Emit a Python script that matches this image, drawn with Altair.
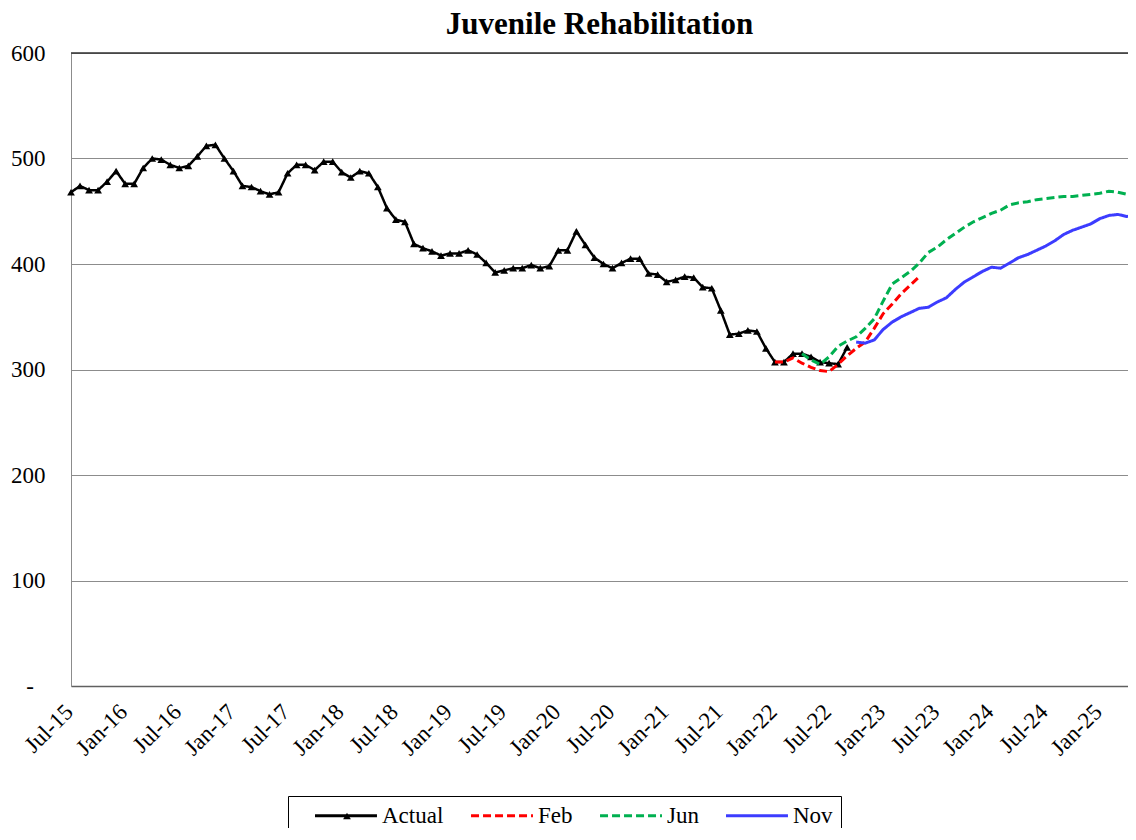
import altair as alt
import pandas as pd

# Month index 0 = Jul-15, 118 = May-25
actual_start = 0
actual = [468, 474, 470, 470, 478, 488, 476, 476, 491, 500, 499, 494, 491, 493, 502, 512,
          513, 500, 488, 474, 473, 469, 466, 468, 486, 494, 494, 489, 497, 497, 487, 482,
          488, 486, 473, 453, 442, 440, 419, 415, 412, 408, 410, 410, 413, 409, 401, 392,
          394, 396, 396, 399, 396, 398, 413, 413, 431, 418, 406, 400, 396, 401, 405, 405,
          391, 390, 383, 385, 388, 387, 378, 377, 356, 333, 334, 337, 336, 320, 307, 307,
          315, 315, 312, 307, 306, 305, 321]

feb_start = 78
feb = [307, 307, 311, 306, 302, 299, 298, 305, 313, 320, 326, 339, 353, 362, 372, 380, 388]

jun_start = 81
jun = [315, 309, 305, 312, 322, 327, 331, 339, 348, 365, 381, 387, 393, 401, 411, 416,
       423, 429, 435, 440, 444, 448, 451, 456, 458, 459, 461, 462, 463, 464, 464, 465,
       466, 467, 469, 468, 466, 466]

nov_start = 87
nov = [326, 325, 328, 338, 345, 350, 354, 358, 359, 364, 368, 376, 383, 388, 393, 397,
       396, 401, 406, 409, 413, 417, 422, 428, 432, 435, 438, 443, 446, 447, 445, 447]

series_names = ["Actual", "Feb", "Jun", "Nov"]
series_colors = ["#000000", "#ff0000", "#00b050", "#3c3cff"]
series_dash = [[1, 0], [8, 4], [8, 4], [1, 0]]

y_ticks = [0, 100, 200, 300, 400, 500, 600]
x_ticks = list(range(0, 119, 6))
y_top = 600
x_domain = [0, 117.12]   # visible window (chart is cut at the right edge)

rows = []
for name, start, vals in [("Actual", actual_start, actual), ("Feb", feb_start, feb),
                          ("Jun", jun_start, jun), ("Nov", nov_start, nov)]:
    for i, v in enumerate(vals):
        rows.append({"idx": start + i, "value": v, "series": name, "marker": name})
df = pd.DataFrame(rows)
df_actual = df[df.series == "Actual"]
df_fc = df[df.series != "Actual"]

FONT = "Liberation Serif"

legend = alt.Legend(
    title=None, orient="none", legendX=217, legendY=743, direction="horizontal",
    symbolType="M-4.13,0H4.13", symbolSize=225, symbolStrokeWidth=3,
    labelFont=FONT, labelFontSize=23, labelColor="black", labelOffset=24.5,
    columnPadding=8, padding=8, strokeColor="black", symbolOffset=38.5,
)
marker_legend = alt.Legend(
    title=None, orient="none", legendX=272, legendY=759, direction="horizontal",
    symbolType="triangle-up", symbolSize=60, symbolFillColor="black",
    symbolStrokeColor="black", symbolStrokeWidth=0,
    labelExpr="''", labelFontSize=1, padding=0, labelOffset=0,
)

x_enc = alt.X(
    "idx:Q",
    scale=alt.Scale(domain=x_domain, nice=False, zero=False),
    axis=alt.Axis(
        title=None, values=x_ticks, grid=False, ticks=False,
        labelExpr="['Jan','Feb','Mar','Apr','May','Jun','Jul','Aug','Sep','Oct','Nov','Dec'][(datum.value + 6) % 12] + '-' + (15 + floor((datum.value + 6) / 12))",
        labelAngle=-45, labelAlign="right", labelBaseline="middle",
        labelFont=FONT, labelFontSize=23, labelColor="black",
        labelPadding=22, labelOffset=-2, labelOverlap=False, labelFlush=False,
        domainColor="#606060", domainWidth=1.5,
    ),
)
y_enc = alt.Y(
    "value:Q",
    scale=alt.Scale(domain=[0, 600], nice=False),
    axis=alt.Axis(
        title=None, values=y_ticks, grid=True, gridColor="#8c8c8c", gridWidth=1,
        ticks=False, labelPadding=26,
        labelExpr="datum.value == 0 ? '-\u00a0\u00a0\u200b' : datum.label",
        labelFont=FONT, labelFontSize=23, labelColor="black",
        domainColor="#8c8c8c", domainWidth=1,
    ),
)
color_enc = alt.Color("series:N", scale=alt.Scale(domain=series_names, range=series_colors), legend=legend)
dash_enc = alt.StrokeDash("series:N", scale=alt.Scale(domain=series_names, range=series_dash), legend=legend)

top_rule = alt.Chart(pd.DataFrame({"v": [y_top]})).mark_rule(color="#303030", strokeWidth=1.5).encode(
    y=alt.Y("v:Q"))
actual_line = alt.Chart(df_actual).mark_line(strokeWidth=2.5, clip=True).encode(
    x=x_enc, y=y_enc, color=color_enc, strokeDash=dash_enc)
actual_pts = alt.Chart(df_actual).mark_point(
    filled=True, size=60, color="black", opacity=1).encode(
    x="idx:Q", y="value:Q",
    shape=alt.Shape("marker:N", scale=alt.Scale(domain=["Actual"], range=["triangle-up"]),
                    legend=marker_legend))
fc_lines = alt.Chart(df_fc).mark_line(strokeWidth=3, clip=True).encode(
    x=x_enc, y=y_enc, color=color_enc, strokeDash=dash_enc)

chart = alt.layer(top_rule, actual_line, actual_pts, fc_lines).properties(
    width=1057, height=633,
    autosize=alt.AutoSizeParams(type="none"),
    padding={"left": 63, "top": 45, "right": 0, "bottom": 142},
    title=alt.TitleParams("Juvenile Rehabilitation", font=FONT, fontSize=31,
                          fontWeight="bold", color="black", anchor="middle", offset=1),
).configure_view(stroke=None).configure(background="white")

chart.save("out.html", embed_options={"renderer": "svg", "actions": False})
